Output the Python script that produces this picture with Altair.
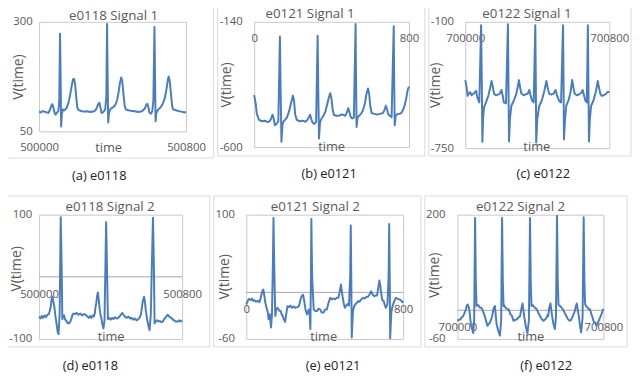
import altair as alt
import pandas as pd

BLUE = "#4a7dbf"
FONT = "Open Sans"
GRAY = "#595959"

# ---------------- data (time offsets from the first sample, values) ----------------
a_time = [0, 10, 20, 35, 50, 60, 68, 72, 78, 85, 90, 96, 105, 110, 114, 118, 120, 124, 130, 140,
          150, 160, 170, 178, 184, 190, 196, 202, 208, 214, 225, 240, 260, 280, 300, 310, 318, 324,
          329, 334, 340, 350, 360, 366, 370, 373, 376, 380, 390, 400, 415, 425, 433, 440, 447, 453,
          460, 466, 472, 485, 500, 520, 540, 560, 575, 583, 589, 594, 600, 608, 616, 622, 628, 631,
          634, 638, 648, 660, 672, 684, 694, 700, 705, 711, 718, 724, 730, 745, 760, 775, 790, 800]
a_val = [95, 93, 96, 94, 92, 100, 110, 112, 104, 92, 88, 92, 96, 120, 273, 150, 61, 90, 100, 98,
         104, 115, 135, 155, 168, 170, 158, 130, 104, 99, 97, 95, 96, 94, 96, 100, 108, 114,
         115, 104, 92, 94, 100, 130, 295, 180, 70, 92, 102, 104, 110, 122, 140, 160, 173, 164,
         132, 108, 100, 98, 97, 96, 94, 96, 102, 110, 113, 106, 94, 90, 96, 120, 288, 180,
         73, 92, 100, 104, 112, 125, 148, 165, 175, 165, 135, 108, 100, 98, 96, 95, 93, 94]

b_time = [0, 8, 14, 25, 40, 55, 70, 80, 88, 95, 101, 107, 115, 125, 133, 137, 141, 146, 152, 160,
          170, 180, 190, 200, 206, 212, 220, 235, 250, 265, 275, 283, 289, 295, 302, 310, 320, 328,
          331, 335, 340, 348, 358, 368, 378, 387, 393, 399, 405, 412, 425, 440, 455, 470, 478, 486,
          492, 498, 505, 515, 524, 526, 529, 534, 542, 552, 562, 572, 580, 588, 594, 600, 607, 620,
          635, 650, 665, 673, 680, 686, 692, 700, 710, 721, 723, 726, 731, 740, 750, 760, 770, 778,
          786, 793, 800]
b_val = [-409, -440, -478, -500, -505, -503, -508, -505, -495, -481, -495, -520, -515, -505, -194,
         -400, -580, -520, -505, -500, -490, -470, -440, -411, -430, -480, -500, -505, -503, -507,
         -500, -490, -481, -497, -510, -515, -508, -191, -380, -568, -510, -495, -485, -470, -440,
         -415, -402, -420, -460, -482, -485, -484, -480, -485, -475, -457, -470, -488, -495, -492,
         -148, -330, -526, -490, -485, -478, -465, -440, -405, -385, -405, -450, -475, -478, -480,
         -478, -475, -465, -448, -460, -478, -485, -490, -156, -340, -520, -485, -478, -478, -475,
         -462, -445, -420, -390, -378]

c_time = [0, 8, 13, 20, 27, 35, 45, 55, 60, 67, 78, 88, 92, 95, 99, 104, 115, 128, 138, 146, 152,
          160, 170, 182, 192, 201, 208, 214, 226, 237, 240, 243, 248, 256, 270, 284, 298, 305, 312,
          325, 338, 347, 356, 363, 371, 380, 389, 392, 394, 400, 411, 425, 438, 451, 458, 466, 478,
          490, 502, 510, 521, 532, 543, 546, 548, 554, 561, 575, 585, 594, 601, 608, 620, 635, 645,
          652, 660, 667, 675, 681, 684, 687, 692, 699, 712, 725, 736, 743, 750, 758, 770, 782, 790,
          798, 800]
c_val = [-400, -440, -481, -470, -462, -478, -470, -462, -455, -489, -515, -117, -420, -718, -600,
         -540, -515, -481, -440, -405, -430, -470, -478, -475, -470, -451, -480, -515, -520, -112,
         -420, -716, -600, -532, -505, -470, -400, -440, -470, -478, -472, -470, -451, -480, -506,
         -515, -117, -420, -721, -600, -532, -505, -460, -405, -440, -470, -475, -470, -451, -480,
         -506, -515, -117, -420, -706, -600, -532, -500, -460, -400, -440, -470, -478, -472, -465,
         -451, -480, -506, -515, -117, -420, -716, -600, -532, -505, -460, -405, -440, -470, -481,
         -478, -470, -462, -460, -458]

d_time = [0, 8, 15, 22, 30, 38, 47, 55, 62, 66, 70, 75, 80, 85, 90, 94, 100, 105, 109, 115, 121,
          126, 130, 135, 140, 145, 150, 158, 167, 175, 182, 188, 195, 201, 210, 220, 230, 240, 250,
          260, 270, 278, 285, 292, 300, 306, 312, 316, 320, 325, 329, 334, 339, 344, 348, 354, 360,
          366, 375, 380, 385, 392, 400, 408, 416, 425, 434, 443, 452, 460, 466, 472, 480, 490, 500,
          510, 518, 526, 535, 545, 554, 562, 570, 576, 581, 587, 592, 596, 603, 609, 614, 618, 625,
          630, 637, 642, 646, 652, 660, 668, 676, 684, 692, 700, 710, 719, 728, 738, 746, 755, 765,
          775, 783, 790, 800]
d_val = [-64, -67, -63, -66, -62, -65, -61, -60, -52, -47, -36, -32, -40, -47, -60, -68, -80, -90,
         -92, -60, 96, 20, -68, -64, -62, -68, -70, -74, -75, -72, -66, -60, -59, -60, -58, -61,
         -59, -62, -60, -61, -64, -66, -63, -66, -62, -64, -58, -48, -42, -30, -25, -38, -52, -62,
         -66, -76, -83, -70, 88, 10, -68, -66, -69, -66, -68, -65, -67, -66, -63, -60, -58, -61,
         -64, -66, -64, -67, -66, -69, -67, -70, -68, -66, -60, -47, -38, -32, -40, -52, -66, -75,
         -82, -86, -60, 10, 95, 20, -75, -72, -70, -72, -71, -73, -72, -68, -64, -61, -64, -66,
         -68, -70, -72, -72, -70, -72, -70]

e_time = [0, 6, 12, 17, 24, 30, 36, 42, 50, 58, 67, 72, 78, 83, 87, 92, 97, 104, 110, 114, 120,
          126, 131, 136, 139, 143, 148, 153, 159, 165, 170, 176, 180, 185, 191, 198, 204, 210, 218,
          225, 234, 242, 250, 260, 268, 275, 282, 286, 290, 296, 302, 310, 319, 324, 327, 330, 332,
          336, 344, 352, 361, 368, 377, 385, 394, 402, 411, 419, 428, 436, 444, 453, 461, 470, 476,
          483, 487, 491, 497, 503, 510, 516, 524, 530, 533, 536, 538, 544, 550, 558, 565, 570, 578,
          586, 595, 603, 612, 620, 628, 637, 645, 654, 660, 667, 673, 679, 684, 687, 694, 701, 706,
          712, 720, 726, 729, 732, 734, 740, 746, 754, 763, 771, 780, 788, 796, 800]
e_val = [-15.6, -12, -9, -8.4, -10, -8, -11, -10, -12, -11, -12.6, -9, -2, 2, 3.5, -4, -13, -20,
         -26, -34.6, -28, -45.2, -30, 40, 95.8, 30, -30.4, -22, -19.8, -22, -24, -24, -28, -30,
         -34, -38, -28, -17.7, -19, -17, -19.8, -18, -20, -19, -18, -11, -5, -4, -3, -12, -21.9,
         -28.3, -22, -30, -47.3, 20, 94.5, 20, -21.9, -24, -24, -21, -21.9, -26, -26, -22, -21.9,
         -14, -7, -9, -8, -9, -7, -7, 0, 10, 2, -5, -14, -19.8, -17, -15, -17, 20, 86, 10, -58,
         -25, -17.7, -15, -13, -11.3, -12, -9, -7, -8, -6, -5.8, -3, 1.4, -3, -5, -4, -4, 5, 15.3,
         8, 1.4, -10, -11.3, -16, -19.8, -15, 20, 88, 10, -59, -25, -17.7, -12, -7, -8, -9, -10,
         -12.6, -11]

f_time = [0, 8, 16, 24, 32, 40, 47, 52, 56, 61, 65, 70, 74, 80, 87, 92, 97, 101, 105, 110, 116,
          122, 130, 137, 143, 150, 155, 160, 164, 170, 178, 186, 191, 197, 200, 206, 210, 215, 222,
          233, 240, 245, 249, 253, 258, 263, 272, 281, 290, 299, 304, 308, 317, 326, 335, 344, 350,
          357, 362, 366, 375, 384, 392, 398, 402, 406, 411, 417, 425, 435, 443, 453, 461, 471, 478,
          489, 494, 498, 503, 510, 515, 519, 526, 534, 540, 546, 550, 554, 558, 564, 571, 579, 587,
          597, 605, 615, 623, 633, 643, 649, 654, 660, 665, 671, 678, 686, 692, 696, 700, 706, 714,
          720, 727, 734, 741, 748, 756, 762, 768, 776, 786, 793, 800]
f_val = [-22, -20, -18.7, -15, -11.8, -5, 2, 10, 12.3, 8, 2, -15, -29, -38, -47.6, -20, 193, 60,
         8.8, 12, 10, 6, 5.4, 2, -5, -12, -18.7, -26, -32.4, -30, -25.6, -18, -11.8, 2, 5.4, 8.8,
         -10, -29, -40, -53, -20, 193, 60, 8.8, 10, 5.4, 3, 2, -8, -11.8, -18, -22, -20, -18.7,
         -15, -11.8, 2, 14.3, 0, -11.8, -35, -47.6, -20, 193, 60, 8.8, 12, 8.8, 5.4, 2, -5, -11.8,
         -18, -22, -20, -15.2, -10, -11.8, 5, 14.3, 0, -11.8, -28, -39.3, -15, 198, 60, 12.3, 10,
         8.8, 5, 2, -5, -11.8, -18, -22, -20, -11.8, -2, 8, 14.3, 0, -11.2, -30, -46.2, -15, 194.5,
         60, 12.3, 8.8, 5.4, 2, 2, -8, -15.2, -25, -25.6, -32, -29, -20, -11.8, -4, 3.3]

titles = ["e0118 Signal 1", "e0121 Signal 1", "e0122 Signal 1",
          "e0118 Signal 2", "e0121 Signal 2", "e0122 Signal 2"]
captions = ["(a) e0118", "(b) e0121", "(c) e0122", "(d) e0118", "(e) e0121", "(f) e0122"]
starts = [500000, 0, 700000, 500000, 0, 700000]
y_ranges = [(50, 300), (-600, -140), (-750, -100), (-100, 100), (-60, 100), (-60, 200)]


def panel(time, val, t0, ymin, ymax, title, caption, frame, plot, title_cx, cap_xy,
          ylab_pad, ytitle_xy, xlab_pad, xtitle_xy, zero_line):
    fx1, fy1, fx2, fy2 = frame
    L, T, W, H = plot
    if ymin >= 0:
        zero_rel = H
    elif ymax <= 0:
        zero_rel = 0
    else:
        zero_rel = H * ymax / (ymax - ymin)
    x_off = zero_rel - H
    zero_abs = T + zero_rel

    df = pd.DataFrame({"time": [t0 + t for t in time], "v": val})
    xs = alt.Scale(domain=[t0, t0 + 800], nice=False, zero=False)
    ys = alt.Scale(domain=[ymin, ymax], nice=False, zero=False)

    xaxis = alt.Axis(values=[t0, t0 + 800], labelExpr="datum.value + ''", labelFlush=False,
                     labelOverlap=False, ticks=False, tickSize=0, domain=False, grid=False,
                     offset=x_off, labelPadding=xlab_pad, labelBaseline="middle",
                     labelFont=FONT, labelFontSize=11.5, labelColor=GRAY,
                     title="time", titleX=xtitle_xy[0] - L, titleY=xtitle_xy[1] - zero_abs,
                     titleAlign="center", titleBaseline="middle", titleFont=FONT,
                     titleFontSize=13, titleFontWeight="normal", titleColor=GRAY)
    yaxis = alt.Axis(values=[ymin, ymax], labelExpr="datum.value + ''", labelFlush=False,
                     labelOverlap=False, ticks=False, tickSize=0, domain=False, grid=False,
                     labelPadding=ylab_pad, labelBaseline="middle", labelFont=FONT,
                     labelFontSize=11.5, labelColor=GRAY,
                     title="V(time)", titleX=ytitle_xy[0] - L, titleY=ytitle_xy[1] - T,
                     titleAlign="center", titleBaseline="middle", titleFont=FONT,
                     titleFontSize=14, titleFontWeight="normal", titleColor=GRAY)

    frame_layer = alt.Chart(pd.DataFrame({"k": [0]})).mark_rect(
        fillOpacity=0, stroke="#d9d9d9", strokeWidth=1
    ).encode(x=alt.value(fx1 - L), x2=alt.value(fx2 - L),
             y=alt.value(fy1 - T), y2=alt.value(fy2 - T))

    line = alt.Chart(df).mark_line(color=BLUE, strokeWidth=2, strokeJoin="round").encode(
        x=alt.X("time:Q", scale=xs, axis=xaxis),
        y=alt.Y("v:Q", scale=ys, axis=yaxis),
    )

    cap = alt.Chart(pd.DataFrame({"c": [caption]})).mark_text(
        font=FONT, fontSize=13, color="#222222", baseline="middle", align="center"
    ).encode(text="c:N", x=alt.value(cap_xy[0] - L), y=alt.value(cap_xy[1] - T))

    layers = [frame_layer]
    if zero_line:
        rule = alt.Chart(pd.DataFrame({"v": [0]})).mark_rule(
            color="#a6a6a6", strokeWidth=1
        ).encode(y=alt.Y("v:Q", scale=ys, axis=yaxis))
        layers.append(rule)
    layers += [line, cap]

    return alt.layer(*layers).properties(
        width=W, height=H,
        title=alt.TitleParams(text=title, frame="group", anchor="middle",
                              dx=title_cx - (L + W / 2), offset=-28.8, baseline="alphabetic",
                              font=FONT, fontSize=13.5, fontWeight="normal", color=GRAY),
    )


pa = panel(a_time, a_val, starts[0], *y_ranges[0], titles[0], captions[0],
           (2, 0, 212, 155), (35, 17, 149, 111), 110.5, (96, 173.5),
           7, (14.5, 72.5), 16, (105, 144), False)
pb = panel(b_time, b_val, starts[1], *y_ranges[1], titles[1], captions[1],
           (215, 0, 425, 155), (252, 19, 157, 127), 308.7, (328, 173.5),
           12, (224, 82.5), 17, (330, 145), False)
pc = panel(c_time, c_val, starts[2], *y_ranges[2], titles[2], captions[2],
           (428, 0, 633, 155), (465, 19, 146, 128), 527.5, (544, 173.5),
           12, (435, 83), 17, (537, 145), False)
pd_ = panel(d_time, d_val, starts[3], *y_ranges[3], titles[3], captions[3],
            (2, 195, 212, 348), (39, 214, 145, 126), 111, (91, 367),
            7.5, (16.5, 268.5), 18, (111.5, 338), True)
pe = panel(e_time, e_val, starts[4], *y_ranges[4], titles[4], captions[4],
           (215, 195, 425, 348), (248, 214, 159, 126), 318, (336, 367),
           12, (226, 276.5), 17.25, (326, 338), True)
pf = panel(f_time, f_val, starts[5], *y_ranges[5], titles[5], captions[5],
           (428, 195, 633, 348), (461, 214, 148, 126), 525, (551, 367),
           12.5, (437.5, 275), 17.4, (535, 338), True)

chart = alt.vconcat(
    alt.hconcat(pa, pb, pc, spacing=2),
    alt.hconcat(pd_, pe, pf, spacing=2),
    spacing=11.5,
).properties(
    padding={"left": -6.5, "top": -8.5, "right": 0, "bottom": 0},
    background="white",
).configure_view(stroke="#c8c8c8", strokeWidth=1)

chart.save("out.html", embed_options={"renderer": "svg", "actions": False})
